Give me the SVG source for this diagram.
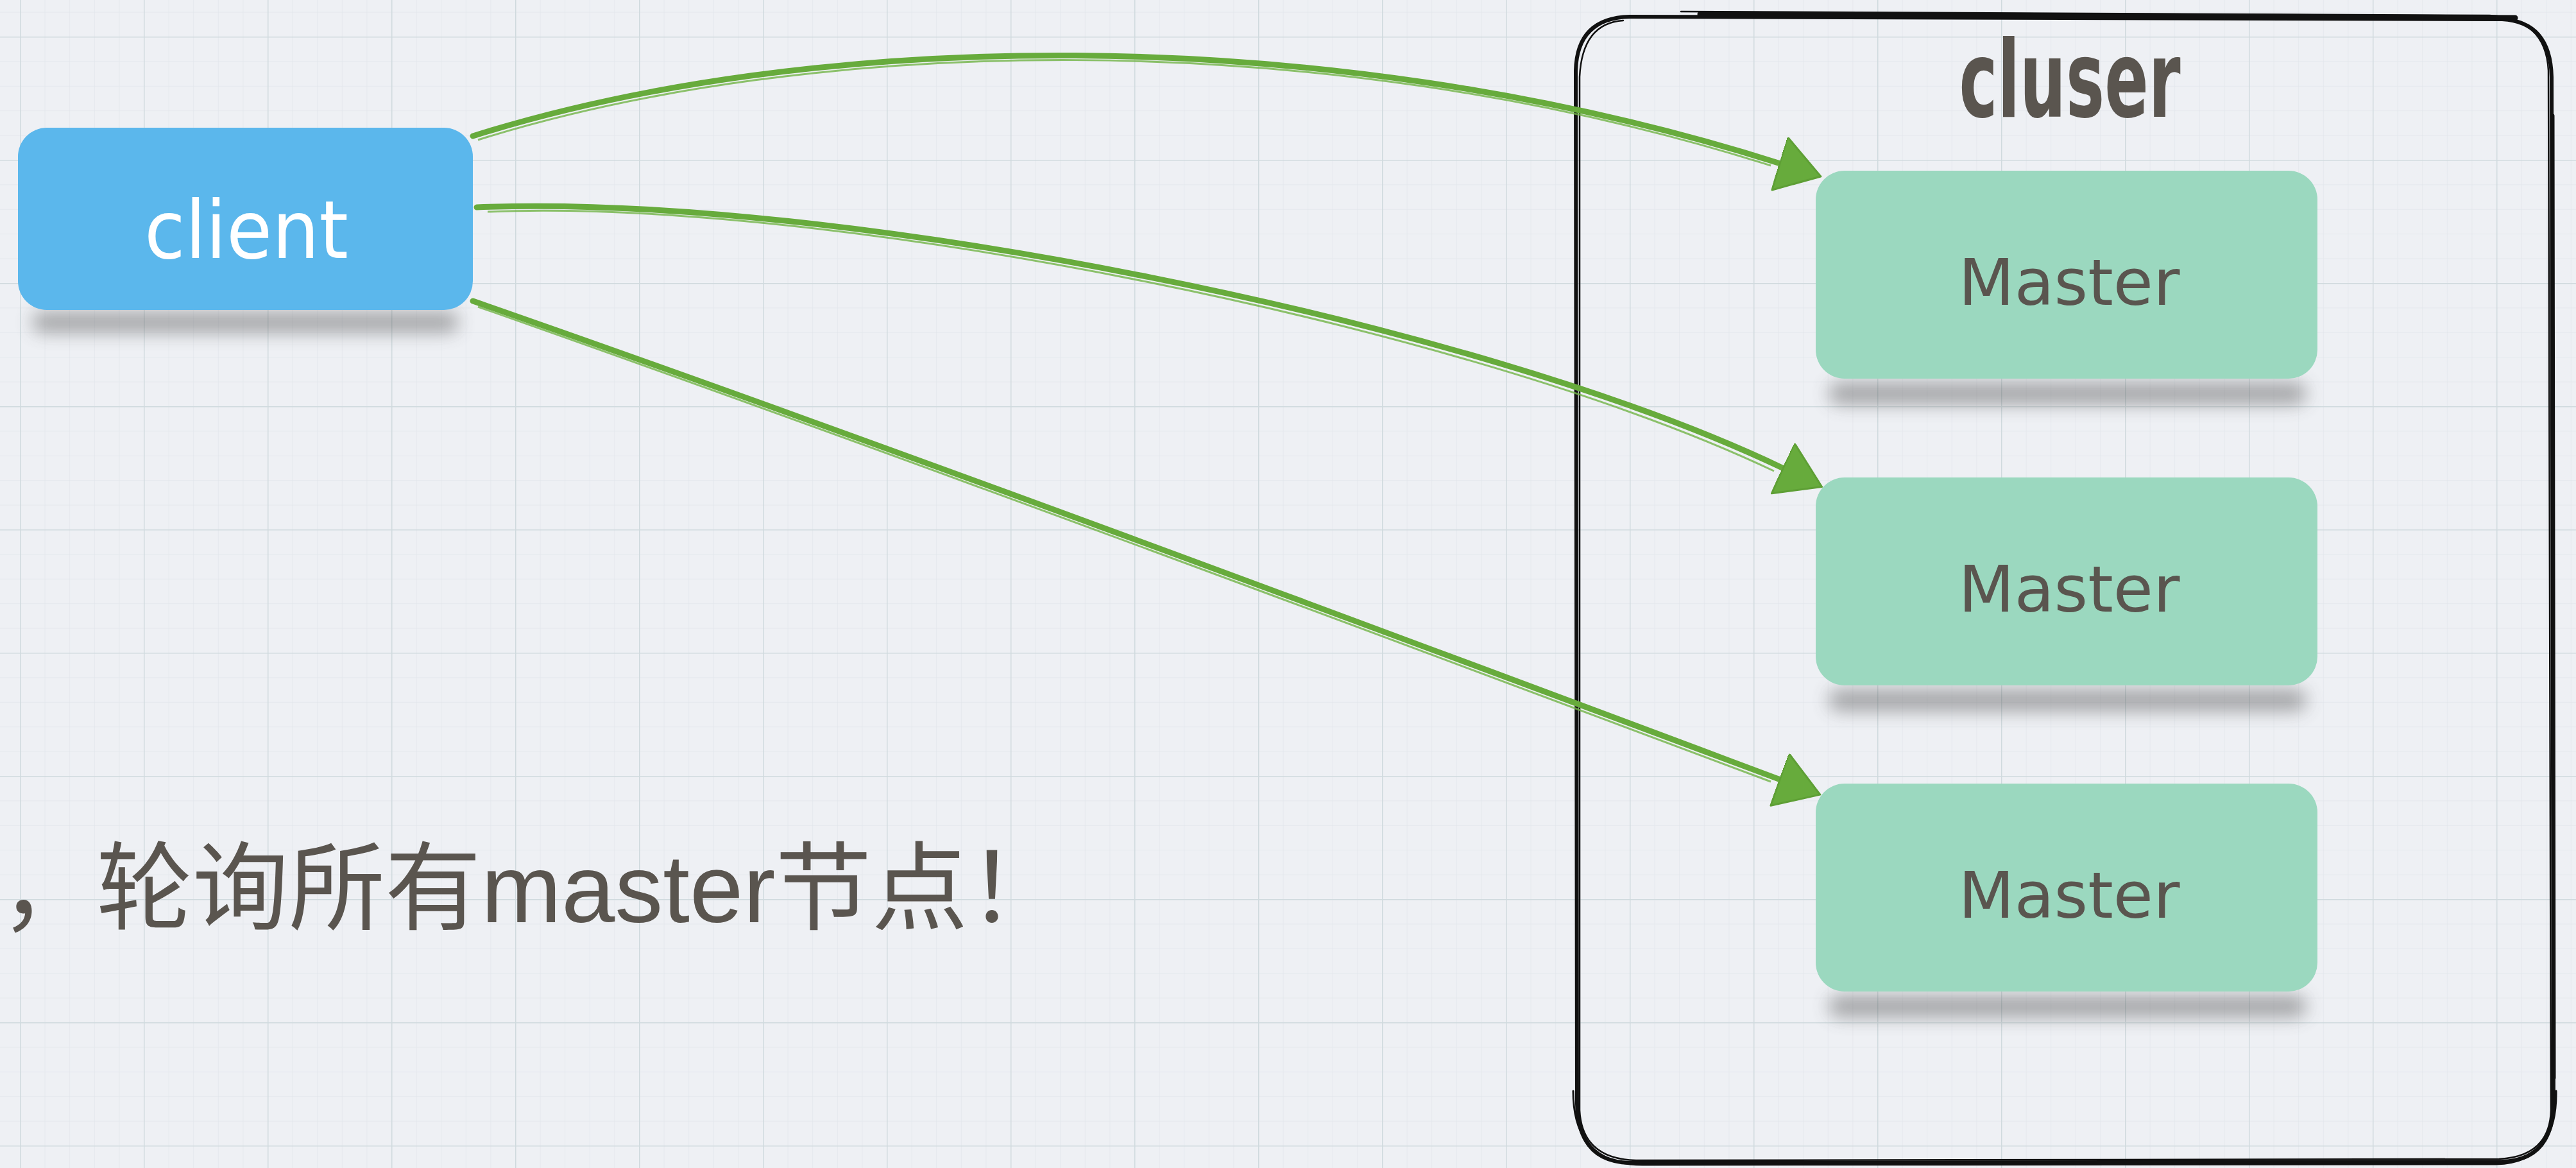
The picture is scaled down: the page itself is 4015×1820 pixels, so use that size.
<svg xmlns="http://www.w3.org/2000/svg" width="4015" height="1820" viewBox="0 0 4015 1820">
<defs>
<pattern id="minor" x="31" y="57" width="38.6" height="38.4" patternUnits="userSpaceOnUse">
<path d="M0,0 V38.4 M0,0 H38.6" fill="none" stroke="#E2E6EB" stroke-width="1.5"/>
</pattern>
<pattern id="major" x="31" y="57" width="193" height="192" patternUnits="userSpaceOnUse">
<path d="M0,0 V192 M0,0 H193" fill="none" stroke="#D0DADE" stroke-width="3"/>
</pattern>
<filter id="sh" x="-20%" y="-300%" width="140%" height="700%">
<feGaussianBlur stdDeviation="14"/>
</filter>
<marker id="ah" markerUnits="userSpaceOnUse" markerWidth="80" markerHeight="90" viewBox="0 0 80 90" refX="2" refY="43" orient="auto">
<path d="M0,0 L68,43 L2,86 Z" fill="#67AB3C" stroke="#5E9F35" stroke-width="3" stroke-linejoin="round"/>
</marker>
<style>
.bg{fill:#EEF0F4}
.shadow{fill:#4A4A4A;opacity:0.45;filter:url(#sh)}
.client{fill:#5BB7EC}
.master{fill:#9BD8BF}
.lbl{font-family:"Comic Sans MS","Chalkboard","DejaVu Sans",sans-serif;text-anchor:middle}
.mt{fill:#5A554F;font-size:100px}
.ct{fill:#FFFFFF;font-size:124px}
.title{fill:#5A554F;font-size:165px;font-weight:bold}
.note{font-family:"Liberation Sans","Noto Sans CJK SC",sans-serif;font-size:150px;fill:#5A554F}
.wire{fill:none;stroke:#67AB3C;stroke-width:9;stroke-linecap:round}
.wire2{fill:none;stroke:#72B447;stroke-width:3;opacity:0.8}
.rim{fill:none;stroke:#111111;stroke-linejoin:round;stroke-linecap:round}
</style>
</defs>
<rect class="bg" x="0" y="0" width="4015" height="1820"/>
<rect x="0" y="0" width="4015" height="1820" fill="url(#minor)"/>
<rect x="0" y="0" width="4015" height="1820" fill="url(#major)"/>

<g id="note">
<text class="note" x="0" y="1437">，轮询所有master节点！</text>
</g>

<g id="cluster">
<path class="rim" stroke-width="6" d="M2540,26 L3900,30 Q3975,34 3977,120 L3980,1720 Q3978,1808 3900,1810 L2540,1812 Q2460,1810 2458,1720 L2456,110 Q2458,28 2540,26 Z"/>
<path class="rim" stroke-width="2.5" d="M2620,18 L3880,24 Q3968,28 3972,110 L3976,1730 Q3974,1802 3895,1806 L2550,1808 Q2466,1806 2462,1730 L2462,120 Q2466,36 2530,32"/>
<path class="rim" stroke-width="9" d="M2650,22 L3920,28"/>
<path class="rim" stroke-width="3" d="M2452,1700 Q2452,1815 2560,1815 L3890,1814 Q3986,1812 3984,1700"/>
<path class="rim" stroke-width="5" d="M3979,180 L3981,1680"/>
<text class="lbl title" x="3226" y="182" textLength="345" lengthAdjust="spacingAndGlyphs">cluser</text>
</g>

<g id="client">
<rect class="shadow" x="50" y="486" width="665" height="32" rx="16"/>
<rect class="client" x="28" y="199" width="709" height="284" rx="45"/>
<text class="lbl ct" x="384" y="402" textLength="318" lengthAdjust="spacingAndGlyphs">client</text>
</g>

<g id="master1">
<rect class="shadow" x="2850" y="596" width="745" height="34" rx="17"/>
<rect class="master" x="2830" y="266" width="782" height="324" rx="45"/>
<text class="lbl mt" x="3225" y="475" textLength="345" lengthAdjust="spacingAndGlyphs">Master</text>
</g>

<g id="master2">
<rect class="shadow" x="2850" y="1074" width="745" height="34" rx="17"/>
<rect class="master" x="2830" y="744" width="782" height="324" rx="45"/>
<text class="lbl mt" x="3225" y="953" textLength="345" lengthAdjust="spacingAndGlyphs">Master</text>
</g>

<g id="master3">
<rect class="shadow" x="2850" y="1551" width="745" height="34" rx="17"/>
<rect class="master" x="2830" y="1221" width="782" height="324" rx="45"/>
<text class="lbl mt" x="3225" y="1430" textLength="345" lengthAdjust="spacingAndGlyphs">Master</text>
</g>

<g id="connectors">
<path class="wire" d="M737,212 C1250,50 2050,25 2775,255" marker-end="url(#ah)"/>
<path class="wire2" d="M745,218 C1255,58 2050,33 2760,258"/>
<path class="wire" d="M743,323 C1300,300 2300,500 2780,730" marker-end="url(#ah)"/>
<path class="wire2" d="M760,330 C1300,308 2290,508 2765,734"/>
<path class="wire" d="M737,469 C1400,700 2200,1000 2775,1215" marker-end="url(#ah)"/>
<path class="wire2" d="M745,478 C1400,708 2200,1008 2760,1218"/>
</g>
</svg>
